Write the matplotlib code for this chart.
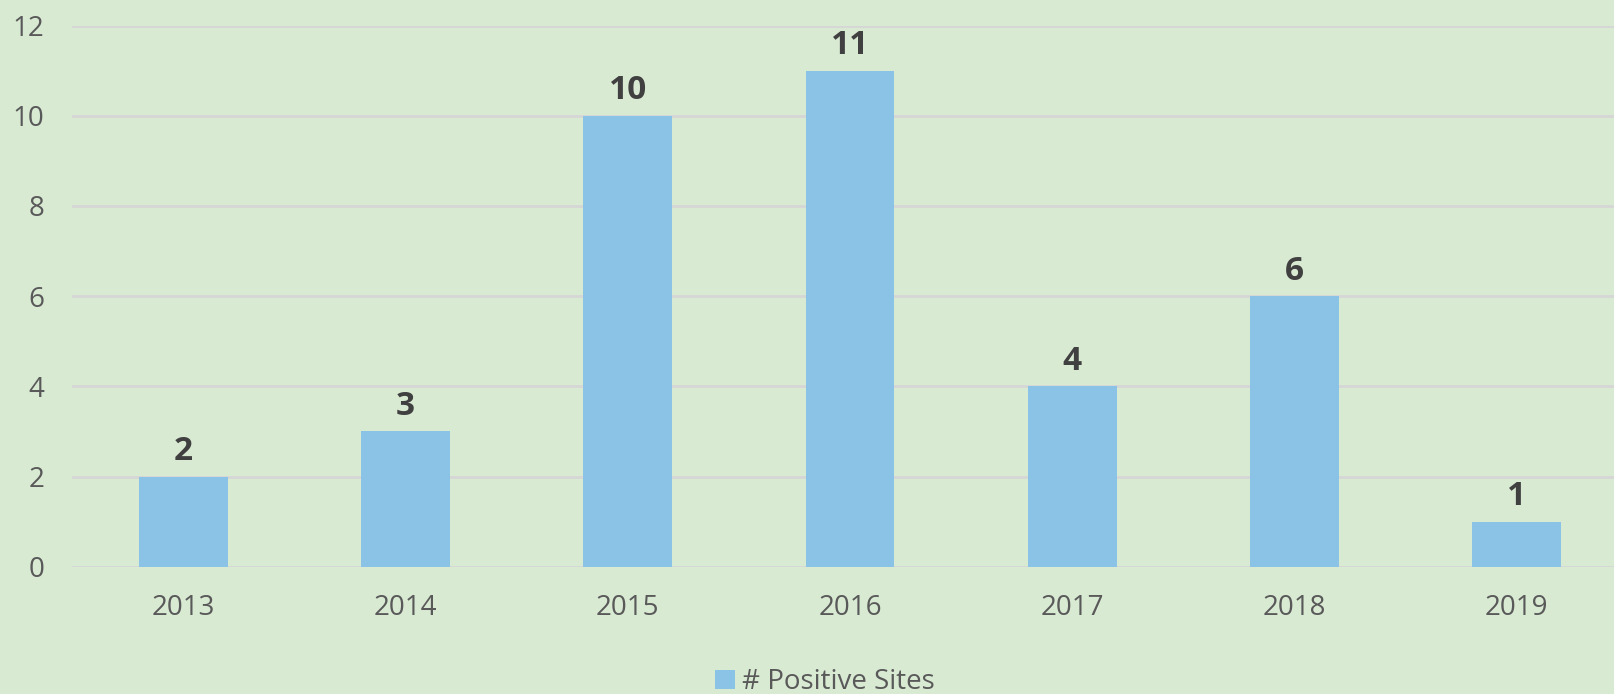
import matplotlib
matplotlib.use("Agg")
import matplotlib.pyplot as plt
from matplotlib.patches import Patch

years = ["2013", "2014", "2015", "2016", "2017", "2018", "2019"]
positive_sites = [2, 3, 10, 11, 4, 6, 1]
y_ticks = [0, 2, 4, 6, 8, 10, 12]
series_name = "# Positive Sites"

bg = "#D9EAD3"
bar_color = "#8BC3E6"
grid_color = "#D6D6D6"
text_color = "#595959"
label_color = "#404040"

plt.rcParams['font.family'] = ['Open Sans', 'DejaVu Sans']

W, H = 1614, 694
fig = plt.figure(figsize=(W / 100, H / 100), dpi=100, facecolor=bg)
ax = fig.add_axes([72 / W, 127.3 / H, 1556 / W, 541.2 / H], facecolor=bg)

x = list(range(len(years)))
bars = ax.bar(x, positive_sites, width=0.40, color=bar_color, zorder=3)

ax.set_xlim(-0.5, len(years) - 0.5)
ax.set_ylim(0, 12)
ax.set_yticks(y_ticks)
ax.set_yticklabels([str(t) for t in y_ticks])
ax.set_xticks(x)
ax.set_xticklabels(years)

ax.grid(axis='y', color=grid_color, linewidth=2, zorder=0)
ax.set_axisbelow(True)
for s in ax.spines.values():
    s.set_visible(False)
ax.tick_params(axis='both', length=0, labelsize=20, colors=text_color)
ax.tick_params(axis='y', pad=20)
ax.tick_params(axis='x', pad=20)

for xi, v in zip(x, positive_sites):
    ax.annotate(str(v), (xi, v), xytext=(0, 6), textcoords='offset points',
                ha='center', va='bottom', fontsize=24, fontweight='bold',
                color=label_color)

handles = [Patch(facecolor=bar_color, edgecolor='none')]
fig.legend(handles, [series_name], loc='center', bbox_to_anchor=(0.511, 12 / H),
           frameon=False, fontsize=20, labelcolor=text_color,
           handlelength=0.7, handleheight=0.7, handletextpad=0.25)

fig.savefig("out.png", dpi=100, facecolor=bg)
